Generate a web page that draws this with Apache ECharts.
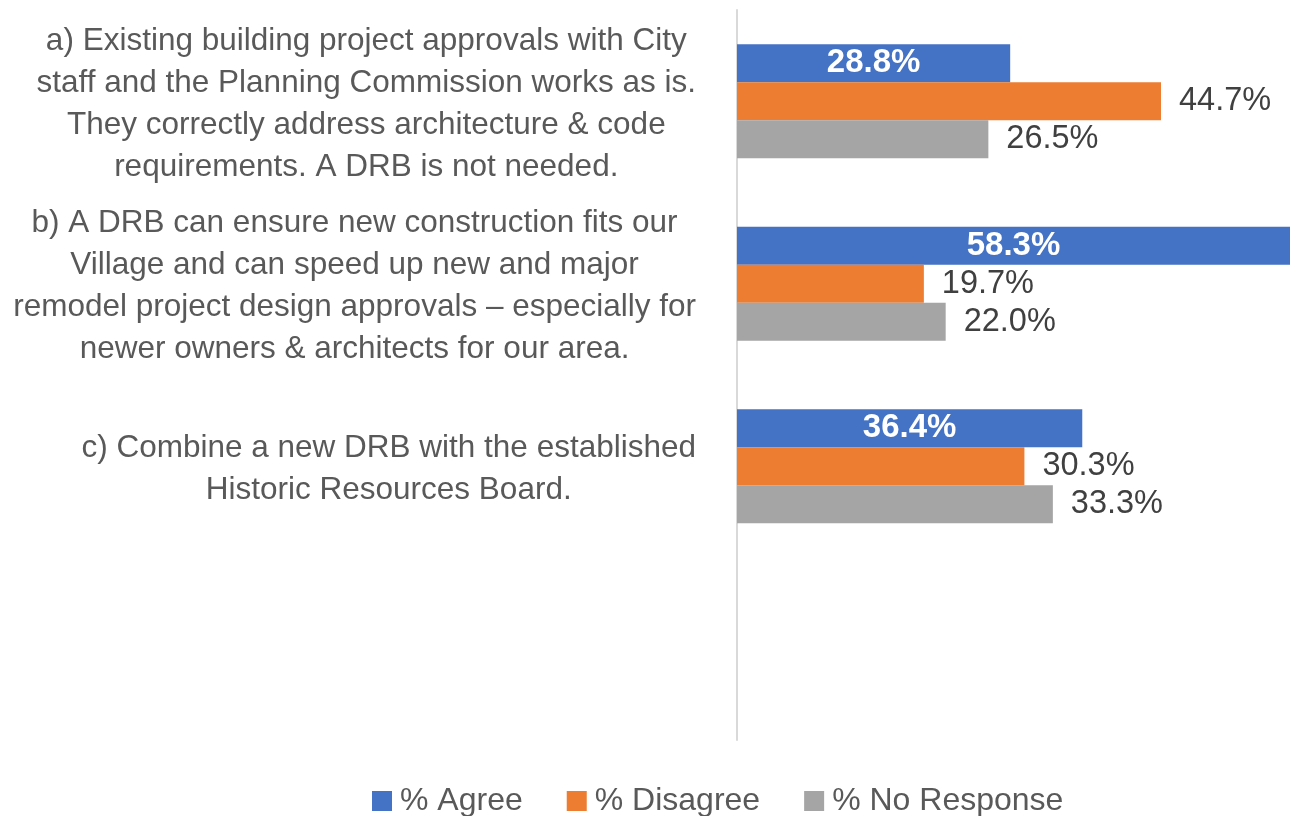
<!DOCTYPE html>
<html>
<head>
<meta charset="utf-8">
<script src="https://cdn.jsdelivr.net/npm/echarts@6/dist/echarts.min.js"></script>
<style>
  html, body { margin: 0; padding: 0; background: #fff; }
  #main { width: 1290px; height: 816px; }
</style>
</head>
<body>
<div id="main"></div>
<script>
// categories (last one is an empty slot, as in the original chart)
var categories = [
  'a) Existing building project approvals with City\nstaff and the Planning Commission works as is.\nThey correctly address architecture & code\nrequirements. A DRB is not needed.',
  'b) A DRB can ensure new construction fits our\nVillage and can speed up new and major\nremodel project design approvals \u2013 especially for\nnewer owners & architects for our area.',
  'c) Combine a new DRB with the established\nHistoric Resources Board.',
  ''
];
var seriesNames = ['% Agree', '% Disagree', '% No Response'];
var agree = [28.8, 58.3, 36.4];
var disagree = [44.7, 19.7, 30.3];
var noResponse = [26.5, 22.0, 33.3];

var font = 'Liberation Sans';

function pct(p) {
  return p.value.toFixed(1) + '%';
}

var option = {
  animation: false,
  color: ['#4472C4', '#ED7D31', '#A5A5A5'],
  grid: {
    left: 737,
    right: -5,
    top: 10,
    bottom: 76
  },
  xAxis: {
    type: 'value',
    min: 0,
    max: 58.3,
    show: false
  },
  yAxis: {
    type: 'category',
    inverse: true,
    data: categories,
    axisLine: { show: true, lineStyle: { color: '#d9d9d9', width: 2 } },
    axisTick: { show: false },
    axisLabel: {
      margin: 41,
      align: 'right',
      padding: [6, 0, 0, 0],
      formatter: function (v) {
        if (!v) return '';
        // every line centred inside the block
        return v.split('\n').map(function (l) { return '{c|' + l + '}'; }).join('\n');
      },
      rich: {
        c: {
          align: 'center',
          fontFamily: font,
          fontSize: 31.5,
          lineHeight: 42,
          color: '#595959'
        }
      }
    }
  },
  legend: {
    left: 367,
    top: 780,
    itemWidth: 20,
    itemHeight: 20,
    itemGap: 44,
    icon: 'rect',
    textStyle: { fontFamily: font, fontSize: 32, color: '#595959', padding: [0, 0, 0, 3] },
    data: seriesNames
  },
  series: [
    {
      name: seriesNames[0],
      type: 'bar',
      data: agree,
      barWidth: 38,
      barGap: '0%',
      label: {
        show: true,
        position: 'inside',
        formatter: pct,
        color: '#fff',
        fontWeight: 'bold',
        fontFamily: font,
        fontSize: 33
      }
    },
    {
      name: seriesNames[1],
      type: 'bar',
      data: disagree,
      barWidth: 38,
      barGap: '0%',
      label: {
        show: true,
        position: 'right',
        distance: 18,
        formatter: pct,
        color: '#404040',
        fontFamily: font,
        fontSize: 32.5
      }
    },
    {
      name: seriesNames[2],
      type: 'bar',
      data: noResponse,
      barWidth: 38,
      barGap: '0%',
      label: {
        show: true,
        position: 'right',
        distance: 18,
        formatter: pct,
        color: '#404040',
        fontFamily: font,
        fontSize: 32.5
      }
    }
  ]
};

var chartDom = document.getElementById('main');
var myChart = echarts.init(chartDom);
myChart.setOption(option);
</script>
</body>
</html>
